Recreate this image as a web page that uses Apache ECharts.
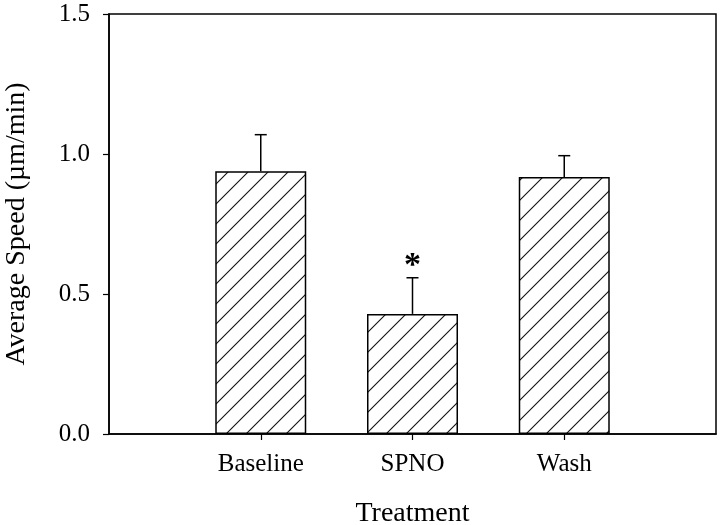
<!DOCTYPE html>
<html>
<head>
<meta charset="utf-8">
<script src="https://cdn.jsdelivr.net/npm/echarts@6/dist/echarts.min.js"></script>
<style>
html,body{margin:0;padding:0;background:#fff;}
#chart{width:720px;height:525px;}
</style>
</head>
<body>
<div id="chart"></div>
<script>
const categories = ['Baseline', 'SPNO', 'Wash'];
const means = [0.938, 0.429, 0.918];
const errUpper = [0.131, 0.129, 0.076];
const significant = [false, true, false];
const yTicks = [0, 0.5, 1.0, 1.5];

const xData = [''].concat(categories, ['']);
const barData = ['-'].concat(means, ['-']);
const errData = categories.map((c, i) => [i + 1, means[i], means[i] + errUpper[i], significant[i] ? 1 : 0]);

function hatch() {
  const s = 20;
  const c = document.createElement('canvas');
  c.width = s; c.height = s;
  const ctx = c.getContext('2d');
  ctx.fillStyle = '#fff';
  ctx.fillRect(0, 0, s, s);
  ctx.strokeStyle = '#111';
  ctx.lineWidth = 1.1;
  ctx.beginPath();
  ctx.moveTo(0, s); ctx.lineTo(s, 0);
  ctx.moveTo(-2, 2); ctx.lineTo(2, -2);
  ctx.moveTo(s - 2, s + 2); ctx.lineTo(s + 2, s - 2);
  ctx.stroke();
  return c;
}

const font = 'Liberation Serif';
const chart = echarts.init(document.getElementById('chart'), null, {renderer: 'canvas'});
chart.setOption({
  animation: false,
  backgroundColor: '#fff',
  grid: {left: 109, right: 4, top: 14, bottom: 91, containLabel: false, outerBoundsMode: 'none',
    show: true, borderColor: '#000', borderWidth: 1.5, backgroundColor: 'transparent'},
  xAxis: {
    type: 'category',
    data: xData,
    boundaryGap: false,
    name: 'Treatment',
    nameLocation: 'middle',
    nameGap: 66,
    nameTextStyle: {fontFamily: font, fontSize: 28, color: '#000'},
    axisLine: {lineStyle: {color: '#000', width: 1.5}},
    axisTick: {show: true, length: 6, inside: false, lineStyle: {color: '#000', width: 1.2},
      interval: function (idx) { return idx > 0 && idx < xData.length - 1; }},
    axisLabel: {fontFamily: font, fontSize: 25, color: '#000', margin: 18,
      interval: function (idx) { return idx > 0 && idx < xData.length - 1; }},
    splitLine: {show: false}
  },
  yAxis: {
    type: 'value',
    min: 0, max: 1.5, interval: 0.5,
    name: 'Average Speed (\u00b5m/min)',
    nameLocation: 'middle',
    nameGap: 78,
    nameTextStyle: {fontFamily: font, fontSize: 28, color: '#000'},
    axisLine: {show: true, lineStyle: {color: '#000', width: 1.5}},
    axisTick: {show: true, length: 6, inside: false, lineStyle: {color: '#000', width: 1.2}},
    axisLabel: {fontFamily: font, fontSize: 25, color: '#000', margin: 19,
      formatter: v => yTicks.indexOf(v) >= 0 ? v.toFixed(1) : ''},
    splitLine: {show: false}
  },
  series: [
    {
      type: 'bar',
      data: barData,
      barWidth: 91,
      itemStyle: {color: {image: hatch(), repeat: 'repeat'}, borderColor: '#000', borderWidth: 1.5},
      z: 2
    },
    {
      type: 'custom',
      data: errData,
      z: 3,
      renderItem: function (params, api) {
        const x = api.value(0);
        const lo = api.coord([x, api.value(1)]);
        const hi = api.coord([x, api.value(2)]);
        const cap = 6;
        const children = [
          {type: 'line', shape: {x1: lo[0], y1: lo[1], x2: hi[0], y2: hi[1]}, style: {stroke: '#000', lineWidth: 1.5}},
          {type: 'line', shape: {x1: hi[0] - cap, y1: hi[1], x2: hi[0] + cap, y2: hi[1]}, style: {stroke: '#000', lineWidth: 1.5}}
        ];
        if (api.value(3) === 1) {
          children.push({type: 'text', x: hi[0], y: hi[1] - 12,
            style: {text: '*', fontFamily: font, fontSize: 34, fontWeight: 'bold', fill: '#000', align: 'center', verticalAlign: 'middle'}});
        }
        return {type: 'group', children: children};
      }
    }
  ]
});
</script>
</body>
</html>
